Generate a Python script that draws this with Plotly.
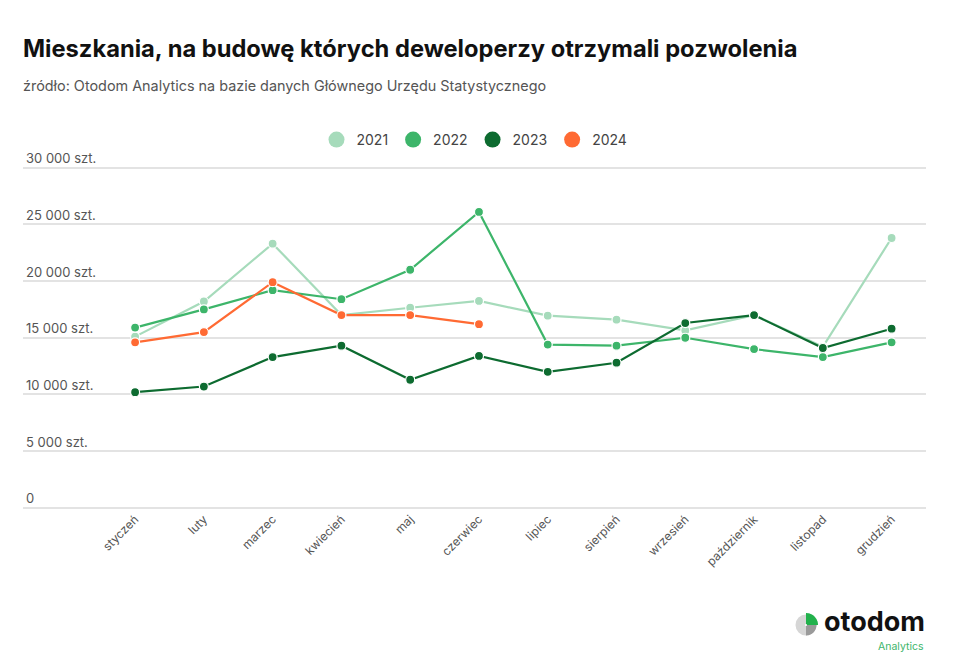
import plotly.graph_objects as go
import math

months = ["styczeń", "luty", "marzec", "kwiecień", "maj", "czerwiec",
          "lipiec", "sierpień", "wrzesień", "październik", "listopad", "grudzień"]

y2021 = [15100, 18200, 23300, 17000, 17650, 18250, 16950, 16600, 15650, 17000, 14200, 23800]
y2022 = [15900, 17500, 19200, 18400, 21000, 26100, 14400, 14300, 15000, 14000, 13300, 14600]
y2023 = [10200, 10700, 13300, 14300, 11300, 13400, 12000, 12800, 16300, 17000, 14100, 15800]
y2024 = [14600, 15500, 19900, 17000, 17000, 16200]

series_names = ["2021", "2022", "2023", "2024"]
series_values = [y2021, y2022, y2023, y2024]
colors = ["#a6dbbb", "#3db56a", "#0d6b30", "#ff6a33"]

tick_vals = [0, 5000, 10000, 15000, 20000, 25000, 30000]
tick_text = ["0", "5 000 szt.", "10 000 szt.", "15 000 szt.", "20 000 szt.", "25 000 szt.", "30 000 szt."]

FONT = "Inter, Lato, sans-serif"

fig = go.Figure()
for name, vals, col in zip(series_names, series_values, colors):
    fig.add_trace(go.Scatter(
        x=months[:len(vals)], y=vals, name=name, mode="lines+markers",
        line=dict(color=col, width=2.2),
        marker=dict(color=col, size=9, line=dict(color="white", width=1.2)),
        showlegend=False, hoverinfo="x+y+name",
    ))
for name, col in zip(series_names, colors):
    fig.add_trace(go.Scatter(
        x=[None], y=[None], name=name, mode="markers",
        marker=dict(color=col, size=16), showlegend=True,
    ))

W, H = 960, 665
ML, MR, MT, MB = 23, 34, 145, 156
PH = H - MT - MB


def px(x):
    return (x - ML) / (W - ML - MR)


def py(y):
    return (H - MB - y) / PH


fig.update_layout(
    width=W, height=H,
    margin=dict(l=ML, r=MR, t=MT, b=MB, pad=0),
    paper_bgcolor="white", plot_bgcolor="white",
    font=dict(family=FONT, color="#555555", size=13),
    showlegend=True,
    legend=dict(orientation="h", x=0.5, xanchor="center", y=py(140), yanchor="middle",
                font=dict(size=14, color="#444444"), itemsizing="trace",
                bgcolor="rgba(0,0,0,0)"),
    xaxis=dict(type="category", categoryorder="array", categoryarray=months,
               range=[-1.63, 11.5], tickangle=-45, showgrid=False, zeroline=False,
               showline=False, ticks="", tickfont=dict(size=12, color="#555555"),
               fixedrange=True),
    yaxis=dict(range=[-100, 32000], tickvals=tick_vals, ticktext=tick_text,
               ticklabelposition="inside top", showgrid=True, gridcolor="#e3e3e3",
               gridwidth=1.5, zeroline=False, showline=False, ticks="",
               tickfont=dict(size=13, color="#555555"), fixedrange=True),
    annotations=[
        dict(text="<b>Mieszkania, na budowę których deweloperzy otrzymali pozwolenia</b>",
             xref="paper", yref="paper", x=px(21), xanchor="left",
             y=py(48), yanchor="middle",
             showarrow=False, font=dict(size=23.7, color="#111111", family=FONT)),
        dict(text="źródło: Otodom Analytics na bazie danych Głównego Urzędu Statystycznego",
             xref="paper", yref="paper", x=px(21), xanchor="left",
             y=py(86), yanchor="middle",
             showarrow=False, font=dict(size=14.4, color="#555555", family=FONT)),
        dict(text="<b>otodom</b>", xref="paper", yref="paper",
             x=px(927), xanchor="right",
             y=py(621), yanchor="middle",
             showarrow=False, font=dict(size=27, color="#111111", family=FONT)),
        dict(text="Analytics", xref="paper", yref="paper",
             x=px(926), xanchor="right",
             y=py(646), yanchor="middle",
             showarrow=False, font=dict(size=10.5, color="#3db56a", family=FONT)),
    ],
)

# logo icon
cx, cy, r = 806, 625, 10.5
fig.add_shape(type="circle", xref="paper", yref="paper",
              x0=px(cx - r), x1=px(cx + r), y0=py(cy + r), y1=py(cy - r),
              fillcolor="#d6d6d6", line=dict(width=0))


def wedge(a0, a1, rr, n=20):
    pts = [(cx, cy)]
    for i in range(n + 1):
        a = math.radians(a0 + (a1 - a0) * i / n)
        pts.append((cx + rr * math.cos(a), cy - rr * math.sin(a)))
    return "M " + " L ".join(f"{px(x):.5f},{py(y):.5f}" for x, y in pts) + " Z"


fig.add_shape(type="path", xref="paper", yref="paper", path=wedge(-90, 0, r),
              fillcolor="#9a9a9a", line=dict(width=0))
fig.add_shape(type="path", xref="paper", yref="paper", path=wedge(0, 90, r + 1.5),
              fillcolor="#22b14c", line=dict(width=0))
fig.add_shape(type="circle", xref="paper", yref="paper",
              x0=px(cx - 1), x1=px(cx + 1), y0=py(cy + 1), y1=py(cy - 1),
              fillcolor="white", line=dict(width=0))

fig.write_html("out.html")
